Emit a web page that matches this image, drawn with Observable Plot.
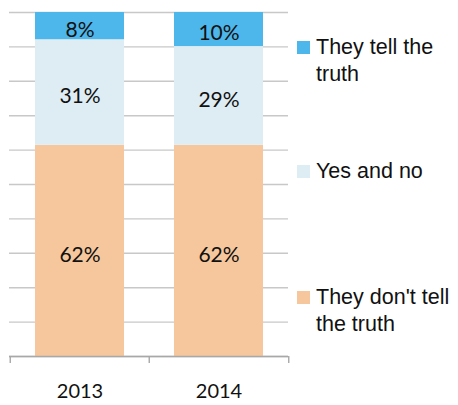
<!DOCTYPE html>
<html><head><meta charset="utf-8">
<script src="https://cdn.jsdelivr.net/npm/d3@7"></script>
<script src="https://cdn.jsdelivr.net/npm/@observablehq/plot@0.6"></script>
<style>
body{margin:0;background:#fff}
#wrap{position:relative;width:458px;height:405px}
.leg{position:absolute;left:316px;font-family:"Liberation Sans",Arial,sans-serif;font-size:21.5px;line-height:27px;color:#111;white-space:nowrap}
.sw{position:absolute;left:-19px;width:13px;height:13px}
</style></head><body><div id="wrap"></div>
<script>
const years = ["2013", "2014"];
const categories = ["They don't tell the truth", "Yes and no", "They tell the truth"];
const values2013 = [62, 31, 8];
const values2014 = [62, 29, 10];
const legendLines = [["They don't tell", "the truth"], ["Yes and no"], ["They tell the", "truth"]];
const colors = ["#f6c79c", "#deedf3", "#4db6ea"];
const yTicks = d3.range(0, 11).map(i => i / 10);

const seriesByYear = [values2013, values2014];
const data = years.flatMap((yr, i) => categories.map((c, j) => ({year: yr, category: c, value: seriesByYear[i][j]})));
const stack = {x: "year", y: "value", z: "category", order: categories, offset: "normalize"};

const W = 458, H = 405, ML = 9, MR = 170;
const half = (W - ML - MR) / years.length / 2;

const plot = Plot.plot({
  width: W, height: H, marginLeft: ML, marginRight: MR, marginTop: 12, marginBottom: 49,
  x: {domain: years, paddingInner: 0.36, paddingOuter: 0.18, label: null, axis: null},
  y: {domain: [0, 1], axis: null},
  color: {domain: categories, range: colors},
  marks: [
    Plot.ruleY(yTicks, {stroke: "#c8c8c8", strokeWidth: 1.4}),
    Plot.barY(data, Plot.stackY({...stack, fill: "category"})),
    Plot.text(data, Plot.stackY({...stack, text: d => d.value + "%", dy: 4, fontSize: 21, fontFamily: "Lato, 'Open Sans', sans-serif", fill: "#111"})),
    Plot.ruleY([0], {stroke: "#a8a8a8", strokeWidth: 1.4}),
    Plot.ruleX(years, {x: d => d, y1: 0, y2: -0.02, dx: -half, stroke: "#a8a8a8", strokeWidth: 1.4}),
    Plot.ruleX(years.slice(-1), {x: d => d, y1: 0, y2: -0.02, dx: half, stroke: "#a8a8a8", strokeWidth: 1.4}),
    Plot.axisX({tickSize: 0, tickPadding: 27, fontSize: 20, fontFamily: "Lato, 'Open Sans', sans-serif", fill: "#111", label: null})
  ]
});
plot.style.fontFamily = "Lato, sans-serif";
const wrap = document.getElementById("wrap");
wrap.appendChild(plot);

const legendTops = [283.5, 158, 33.5];
categories.forEach((c, i) => {
  const div = document.createElement("div");
  div.className = "leg";
  div.style.top = legendTops[i] + "px";
  div.innerHTML = legendLines[i].join("<br>");
  const sw = document.createElement("span");
  sw.className = "sw";
  sw.style.background = colors[i];
  sw.style.top = "7px";
  div.appendChild(sw);
  wrap.appendChild(div);
});
</script>
</body></html>
